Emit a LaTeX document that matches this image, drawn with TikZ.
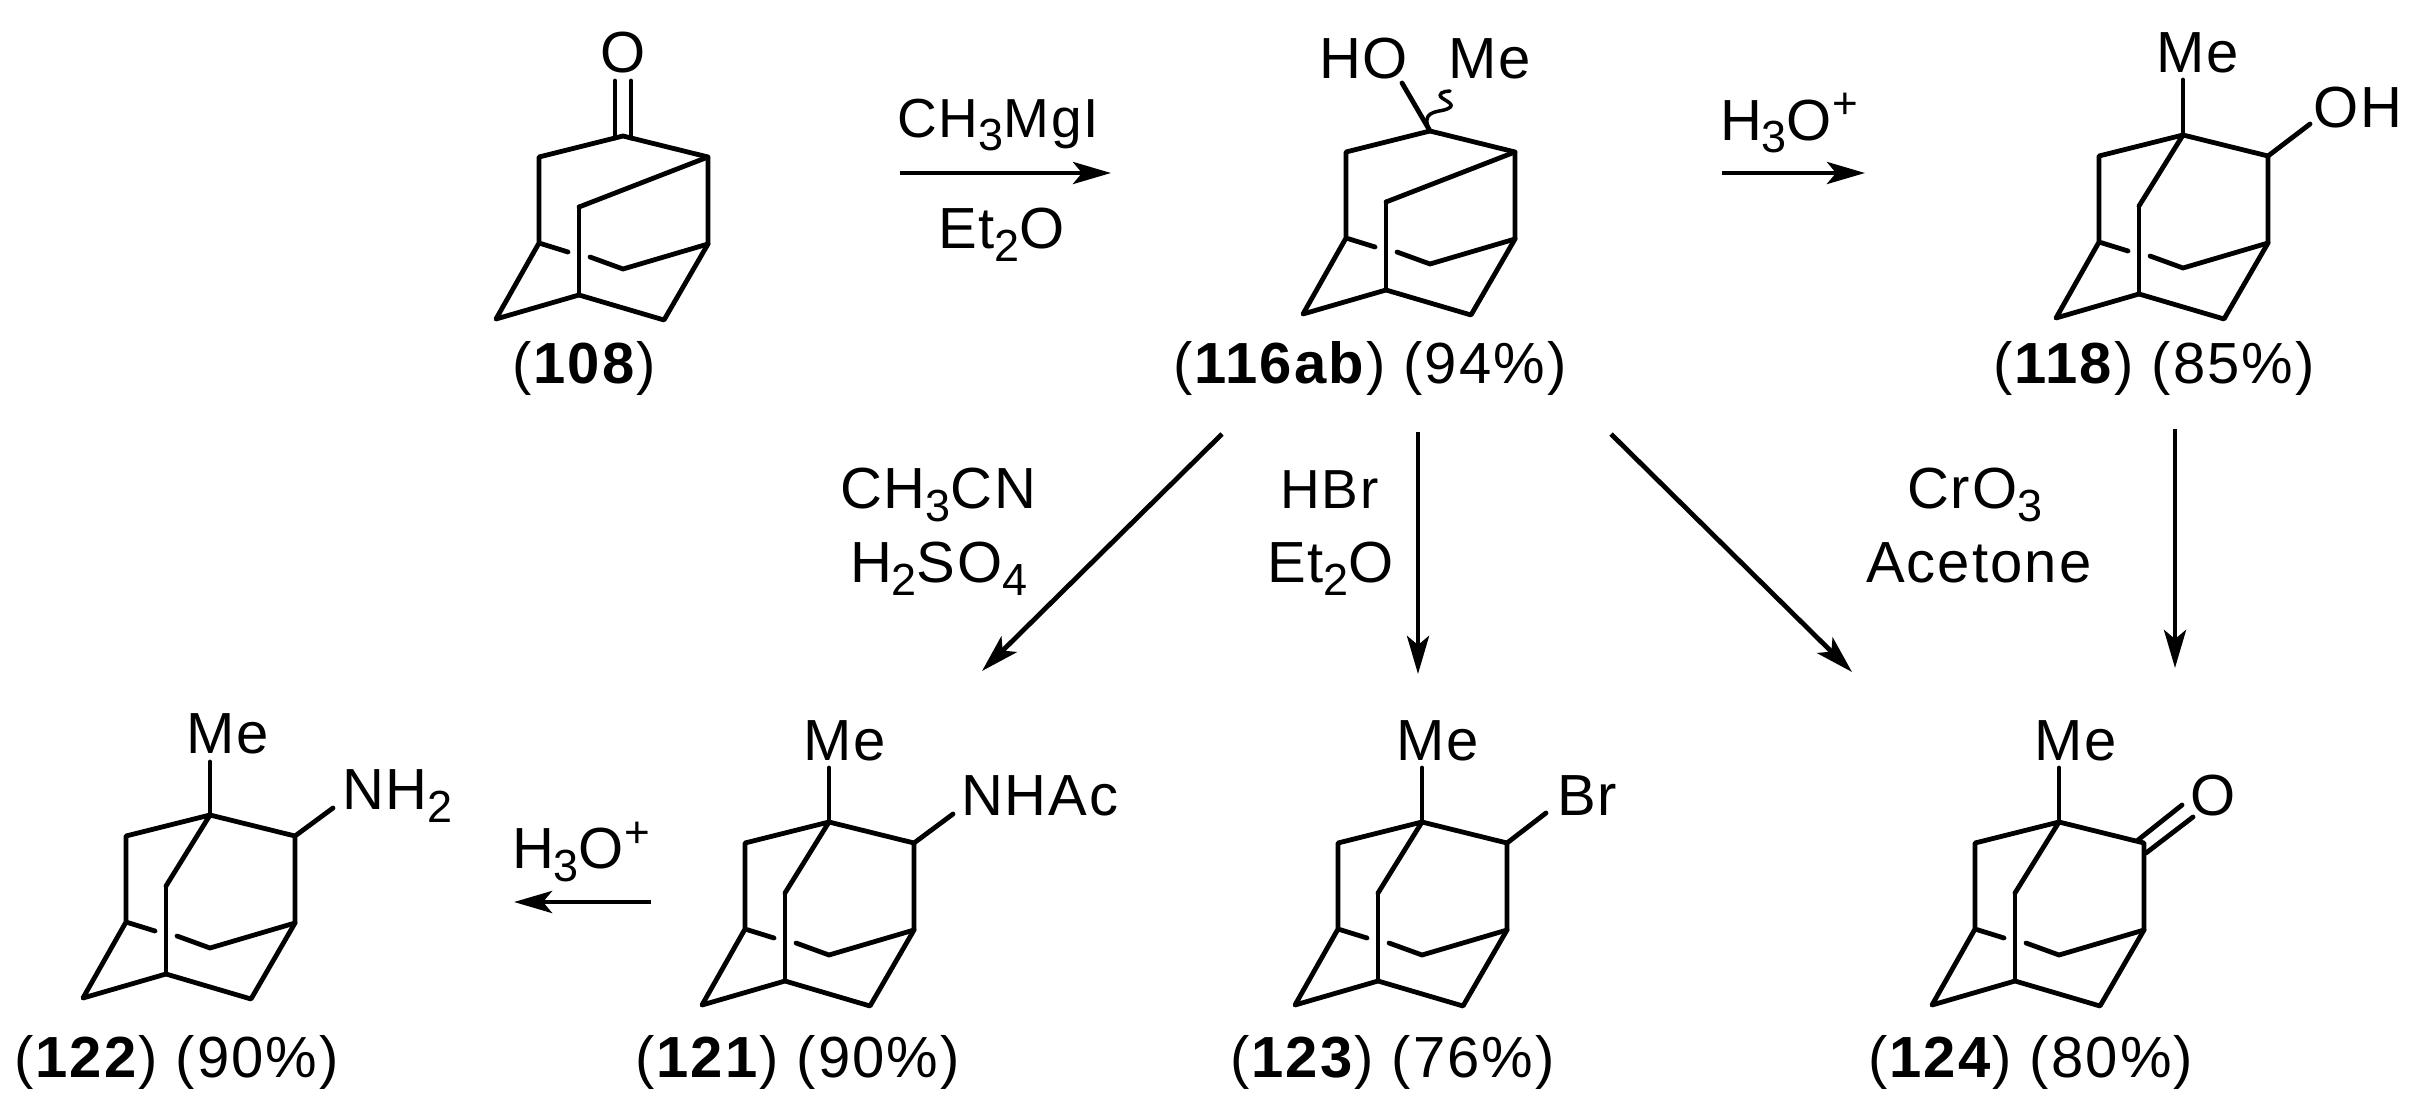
\documentclass[tikz,border=0pt]{standalone}
\usepackage{fontspec}
\setmainfont[LetterSpace=3.6]{Liberation Sans}
\usetikzlibrary{arrows.meta}
\newcommand{\sbs}[1]{\raisebox{-13pt}{\fontsize{45}{45}\selectfont #1}}
\newcommand{\sps}[1]{\raisebox{21pt}{\fontsize{44}{44}\selectfont #1}}
\tikzset{
  bond/.style={line width=4.8pt,line cap=round,line join=round,black},
  wavy bond/.style={line width=3.5pt,line cap=round,black},
  rxn/.style={line width=4.8pt,black,-{Stealth[length=38pt,width=22pt,inset=9pt]}},
  chem/.style={anchor=base west,inner sep=0pt,outer sep=0pt,font=\fontsize{58}{60}\selectfont,text=black},
  chemc/.style={chem,anchor=base},
  chems/.style={chem,font=\fontsize{55}{60}\selectfont}
}
% #1 prefix, #2 x, #3 y
\newcommand{\cage}[3]{%
  \begin{scope}[shift={(#2,#3)}]
    \coordinate (#1t) at (0,0);
    \coordinate (#1R) at (85,21);
    \coordinate (#1L) at (-84,21);
    \coordinate (#1LL) at (-84,107);
    \coordinate (#1RL) at (85,108);
    \coordinate (#1B) at (-44,71);
    \coordinate (#1C) at (-44,159);
    \coordinate (#1FL) at (-127,183);
    \coordinate (#1FR) at (41,184);
    \coordinate (#1M) at (0,133);
    \coordinate (#1Ga) at (-55,116);
    \coordinate (#1Gb) at (-33,121);
    \draw[bond] (#1LL) -- (#1L) -- (#1t) -- (#1R) -- (#1RL) -- (#1FR) -- (#1C) -- (#1FL) -- (#1LL) -- (#1Ga);
    \draw[bond] (#1Gb) -- (#1M) -- (#1RL);
    \draw[bond] (#1C) -- (#1B);
  \end{scope}}
\begin{document}
\begin{tikzpicture}[x=1pt,y=-1pt]
\useasboundingbox (0,0) rectangle (2419,1105);

% ---------- 108
\cage{a}{623}{136}
\draw[bond] (aR) -- (aB);
\coordinate (adl) at (615,138); \coordinate (adle) at (615,81);
\coordinate (adr) at (631,138); \coordinate (adre) at (631,81);
\draw[bond] (adl) -- (adle);
\draw[bond] (adr) -- (adre);
\node[chemc] (aO) at (623,73) {O};
\node[chem] (alab) at (512,383) {(\textbf{108})};

% ---------- 116ab
\cage{b}{1430}{131}
\draw[bond] (bR) -- (bB);
\coordinate (bho) at (1402,83);
\draw[bond] (bt) -- (bho);
\coordinate (bw) at (1450,91);
\draw[wavy bond] (bt) .. controls (1420,112) and (1436,112) .. (1444,110)
  .. controls (1458,106) and (1448,102) .. (1442,98)
  .. controls (1437,94) and (1443,91) .. (bw);
\node[chem] (bHO) at (1319,79) {HO};
\node[chem] (bMe) at (1448,79) {Me};
\node[chem] (blab) at (1173,383) {(\textbf{116ab}) (94\%)};

% ---------- 118
\cage{c}{2183}{135}
\draw[bond] (ct) -- (cB);
\coordinate (cme) at (2183,80); \coordinate (coh) at (2310,124);
\draw[bond] (ct) -- (cme);
\draw[bond] (cR) -- (coh);
\node[chem] (cMe) at (2156,73) {Me};
\node[chem] (cOH) at (2313,128) {OH};
\node[chem] (clab) at (1993,383) {(\textbf{118}) (85\%)};

% ---------- 122
\cage{d}{210}{815}
\draw[bond] (dt) -- (dB);
\coordinate (dme) at (210,762); \coordinate (dnh) at (333,808);
\draw[bond] (dt) -- (dme);
\draw[bond] (dR) -- (dnh);
\node[chem] (dMe) at (186,753) {Me};
\node[chem] (dNH) at (342,809) {NH\sbs{2}};
\node[chem] (dlab) at (14,1077) {(\textbf{122}) (90\%)};

% ---------- 121
\cage{e}{829}{822}
\draw[bond] (et) -- (eB);
\coordinate (eme) at (829,768); \coordinate (enh) at (953,814);
\draw[bond] (et) -- (eme);
\draw[bond] (eR) -- (enh);
\node[chem] (eMe) at (803,760) {Me};
\node[chem] (eNH) at (961,815) {NHAc};
\node[chem] (elab) at (635,1077) {(\textbf{121}) (90\%)};

% ---------- 123
\cage{f}{1422}{822}
\draw[bond] (ft) -- (fB);
\coordinate (fme) at (1422,768); \coordinate (fbr) at (1546,813);
\draw[bond] (ft) -- (fme);
\draw[bond] (fR) -- (fbr);
\node[chem] (fMe) at (1396,760) {Me};
\node[chem] (fBr) at (1557,815) {Br};
\node[chem] (flab) at (1230,1077) {(\textbf{123}) (76\%)};

% ---------- 124
\cage{g}{2059}{822}
\draw[bond] (gt) -- (gB);
\coordinate (gme) at (2059,768);
\coordinate (gda) at (2138,840); \coordinate (gdb) at (2182,805);
\coordinate (gdc) at (2146,853); \coordinate (gdd) at (2193,817);
\draw[bond] (gt) -- (gme);
\draw[bond] (gda) -- (gdb);
\draw[bond] (gdc) -- (gdd);
\node[chem] (gMe) at (2034,760) {Me};
\node[chemc] (gO) at (2213,815) {O};
\node[chem] (glab) at (1868,1077) {(\textbf{124}) (80\%)};

% ---------- arrows
\coordinate (r1s) at (900,173); \coordinate (r1e) at (1111,173);
\draw[rxn] (r1s) -- (r1e);
\node[chems] (r1a) at (897,138) {CH\sbs{3}MgI};
\node[chem] (r1b) at (938,248) {Et\sbs{2}O};

\coordinate (r2s) at (1722,173); \coordinate (r2e) at (1865,173);
\draw[rxn] (r2s) -- (r2e);
\node[chem] (r2a) at (1720,140) {H\sbs{3}O\sps{+}};

\coordinate (r3s) at (651,902); \coordinate (r3e) at (514,902);
\draw[rxn] (r3s) -- (r3e);
\node[chem] (r3a) at (512,868) {H\sbs{3}O\sps{+}};

\coordinate (r4s) at (1222,434); \coordinate (r4e) at (982,671);
\draw[rxn] (r4s) -- (r4e);
\node[chem] (r4a) at (840,508) {CH\sbs{3}CN};
\node[chem] (r4b) at (850,582) {H\sbs{2}SO\sbs{4}};

\coordinate (r5s) at (1418,432); \coordinate (r5e) at (1418,674);
\draw[rxn] (r5s) -- (r5e);
\node[chems] (r5a) at (1280,508) {HBr};
\node[chem] (r5b) at (1267,582) {Et\sbs{2}O};

\coordinate (r6s) at (1611,434); \coordinate (r6e) at (1852,672);
\draw[rxn] (r6s) -- (r6e);
\node[chem] (r6a) at (1907,508) {CrO\sbs{3}};
\node[chem] (r6b) at (1866,582) {Acetone};

\coordinate (r7s) at (2175,429); \coordinate (r7e) at (2175,668);
\draw[rxn] (r7s) -- (r7e);
\end{tikzpicture}
\end{document}
